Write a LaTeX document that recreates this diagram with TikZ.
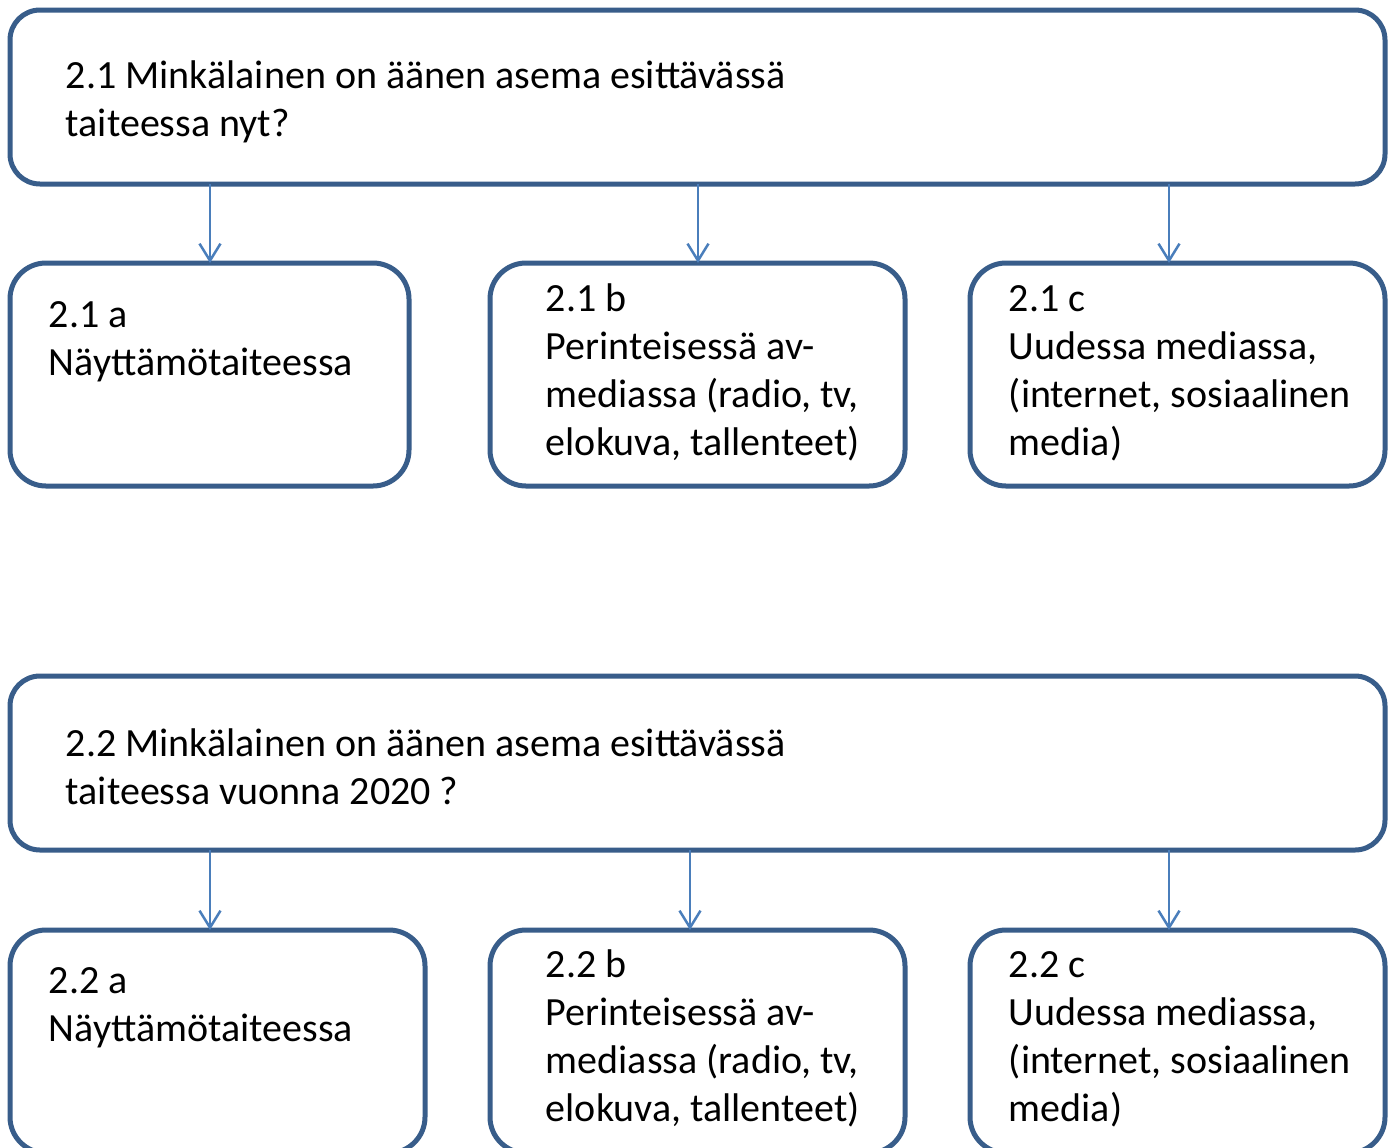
\documentclass[tikz,border=0pt]{standalone}
\usepackage{fontspec}
\setmainfont{Carlito}
\usetikzlibrary{arrows.meta,positioning}
\definecolor{boxline}{HTML}{385D8A}
\definecolor{arrline}{HTML}{4A7EBB}
\begin{document}
\begin{tikzpicture}[x=0.5pt, y=-0.5pt,
  font=\fontsize{20pt}{24pt}\selectfont,
  qbox/.style={draw=boxline, line width=2.5pt, rounded corners=15pt, inner sep=0pt, outer sep=0pt,
    minimum width=687.5pt, minimum height=87pt},
  sbox/.style={draw=boxline, line width=2.5pt, rounded corners=18pt, inner sep=0pt, outer sep=0pt,
    minimum height=111.5pt},
  txt/.style={anchor=base west, align=left, inner sep=0pt},
  arr/.style={draw=arrline, line width=1.25pt, -{Straight Barb[length=8.5pt, width=10.5pt, line width=1.25pt]}}]
\useasboundingbox[fill=white] (0,0) rectangle (1392,1147);
\node[qbox] (q1) at (697.5,97) {};
\node[sbox, minimum width=199.5pt] (q1a) at (209.5,374.5) {};
\node[sbox, minimum width=207.5pt] (q1b) at (697.5,374.5) {};
\node[sbox, minimum width=207.5pt] (q1c) at (1177.5,374.5) {};
\node[qbox] (q2) at (697.5,763) {};
\node[sbox, minimum width=207.5pt] (q2a) at (217.5,1041.5) {};
\node[sbox, minimum width=207.5pt] (q2b) at (697.5,1041.5) {};
\node[sbox, minimum width=207.5pt] (q2c) at (1177.5,1041.5) {};
\node[txt] (t1) at ([shift={(55.5,126.5)}]q1.north west) {2.1 Minkälainen on äänen asema esittävässä\\taiteessa nyt?};
\node[txt] (t1a) at ([shift={(38.5,112)}]q1a.north west) {2.1 a\\Näyttämötaiteessa};
\node[txt] (t1b) at ([shift={(55.5,192)}]q1b.north west) {2.1 b\\Perinteisessä av-\\mediassa (radio, tv,\\elokuva, tallenteet)};
\node[txt] (t1c) at ([shift={(38.5,192)}]q1c.north west) {2.1 c\\Uudessa mediassa,\\(internet, sosiaalinen\\media)};
\node[txt] (t2) at ([shift={(55.5,128.5)}]q2.north west) {2.2 Minkälainen on äänen asema esittävässä\\taiteessa vuonna 2020 ?};
\node[txt] (t2a) at ([shift={(38.5,111.5)}]q2a.north west) {2.2 a\\Näyttämötaiteessa};
\node[txt] (t2b) at ([shift={(55.5,191.5)}]q2b.north west) {2.2 b\\Perinteisessä av-\\mediassa (radio, tv,\\elokuva, tallenteet)};
\node[txt] (t2c) at ([shift={(38.5,191.5)}]q2c.north west) {2.2 c\\Uudessa mediassa,\\(internet, sosiaalinen\\media)};
\coordinate (xa) at (210,0);
\coordinate (xb) at (698,0);
\coordinate (xc) at (1169,0);
\coordinate (xd) at (690,0);
\draw[arr] (q1.south -| xa) -- (q1a.north -| xa);
\draw[arr] (q1.south -| xb) -- (q1b.north -| xb);
\draw[arr] (q1.south -| xc) -- (q1c.north -| xc);
\draw[arr] (q2.south -| xa) -- (q2a.north -| xa);
\draw[arr] (q2.south -| xd) -- (q2b.north -| xd);
\draw[arr] (q2.south -| xc) -- (q2c.north -| xc);
\end{tikzpicture}
\end{document}
